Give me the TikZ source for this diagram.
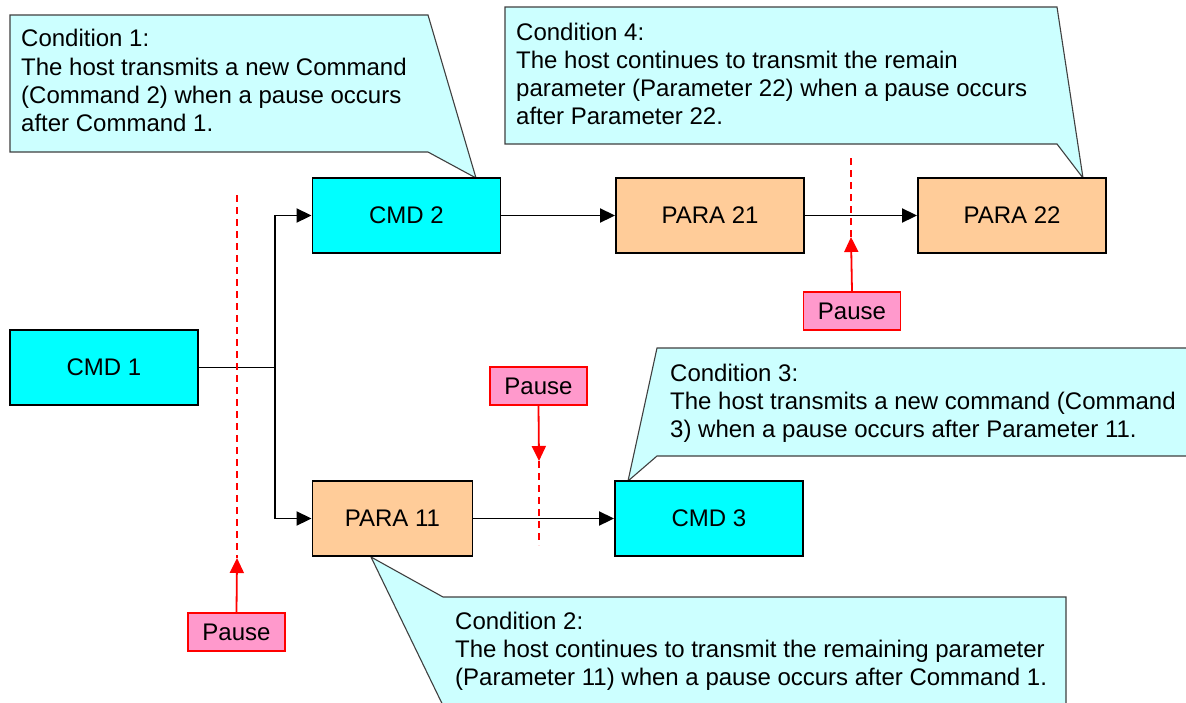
\documentclass[tikz,border=0pt]{standalone}
\usepackage{fontspec}
\setmainfont{Liberation Sans}
\usetikzlibrary{arrows.meta}
\definecolor{cmdc}{HTML}{00FFFF}
\definecolor{parac}{HTML}{FFCC99}
\definecolor{callc}{HTML}{CCFFFF}
\definecolor{pausec}{HTML}{FF99CC}
\definecolor{pauseb}{HTML}{FF0000}
\definecolor{callb}{HTML}{404040}
\begin{document}
\begin{tikzpicture}[x=1pt,y=-1pt,
  font=\fontsize{24}{28.3}\selectfont,
  blk/.style={draw=black,line width=1.9pt,minimum width=188pt,minimum height=75pt,inner sep=0pt},
  cmd/.style={blk,fill=cmdc},
  para/.style={blk,fill=parac},
  pausebox/.style={draw=pauseb,fill=pausec,line width=1.6pt,minimum width=97pt,minimum height=38pt,inner sep=0pt},
  flow/.style={line width=1.9pt,-{Triangle[length=15pt,width=14pt]}},
  pausearrow/.style={draw=pauseb,line width=1.8pt,-{Triangle[length=15pt,width=14pt]}},
  cut/.style={draw=pauseb,line width=1.6pt,dash pattern=on 7pt off 5pt},
  callout/.style={draw=callb,fill=callc,line width=1.1pt,line join=miter},
  calltext/.style={anchor=base west,align=left,inner sep=0pt}]
\clip (0,0) rectangle (1186,702);
\fill[white] (0,0) rectangle (1186,702);

% callouts
\draw[callout] (10,15) -- (428,15) -- (476,178) -- (428,152) -- (10,152) -- cycle;
\draw[callout] (505,7) -- (1057,7) -- (1083,178) -- (1057,144) -- (505,144) -- cycle;
\draw[callout] (657,348) -- (1200,348) -- (1200,456) -- (657,456) -- (628,481) -- cycle;
\draw[callout] (371,557) -- (443,597) -- (1066,597) -- (1066,720) -- (450,720) -- cycle;

% base anchor = baseline of the last line
\node[calltext] (t1) at (21,131.6) {Condition 1:\\The host transmits a new Command\\(Command 2) when a pause occurs\\after Command 1.};
\node[calltext] (t4) at (516,124.9) {Condition 4:\\The host continues to transmit the remain\\parameter (Parameter 22) when a pause occurs\\after Parameter 22.};
\node[calltext] (t3) at (670,437.6) {Condition 3:\\The host transmits a new command (Command\\3) when a pause occurs after Parameter 11.};
\node[calltext] (t2) at (455,685.6) {Condition 2:\\The host continues to transmit the remaining parameter\\(Parameter 11) when a pause occurs after Command 1.};

% blocks
\node[cmd] (c1) at (104,367.5) {CMD 1};
\node[cmd] (c2) at (406.5,215.5) {CMD 2};
\node[para] (p21) at (710,215.5) {PARA 21};
\node[para] (p22) at (1012,215.5) {PARA 22};
\node[para,minimum width=160pt] (p11) at (392.5,518.5) {PARA 11};
\node[cmd] (c3) at (709,518.5) {CMD 3};

% flow
\coordinate (br) at (275,367.5);
\draw[line width=1.9pt] (c1.east) -- (br);
\draw[flow] (br) |- (c2.west);
\draw[flow] (br) |- (p11.west);
\draw[flow] (c2) -- (p21);
\draw[flow] (p21) -- (p22);
\draw[flow] (p11) -- (c3);

% pauses
\coordinate (d1t) at (237,195);
\coordinate (d1b) at (237,558);
\coordinate (d2t) at (851,158);
\coordinate (d2b) at (851,237);
\coordinate (d3t) at (539,461);
\coordinate (d3b) at (539,545);
\draw[cut] (d1t) -- (d1b);
\draw[cut] (d2t) -- (d2b);
\draw[cut] (d3t) -- (d3b);
\node[pausebox] (pz1) at (236.5,632) {Pause};
\node[pausebox] (pz2) at (852,311) {Pause};
\node[pausebox] (pz3) at (538.5,386) {Pause};
\draw[pausearrow] (pz1.north) -- (d1b);
\draw[pausearrow] (pz2.north) -- (d2b);
\draw[pausearrow] (pz3.south) -- (d3t);
\end{tikzpicture}
\end{document}
